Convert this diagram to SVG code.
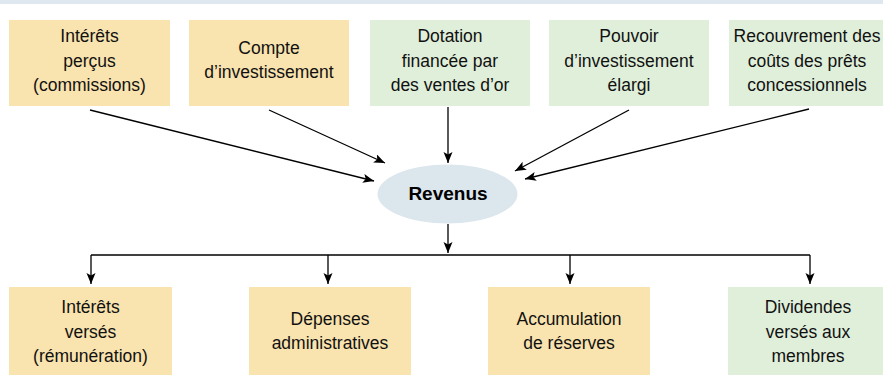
<svg xmlns="http://www.w3.org/2000/svg" width="883" height="375" viewBox="0 0 883 375">
<defs>
<marker id="ah" markerWidth="12" markerHeight="10" refX="11" refY="4.5" orient="auto" markerUnits="userSpaceOnUse">
<path d="M0,0 L11,4.5 L0,9 L2.5,4.5 Z" fill="#000"/>
</marker>
</defs>
<style>
.o{fill:#f9e3ae}
.g{fill:#e0efda}
.t{font-family:"Liberation Sans",Arial,sans-serif;font-size:17.5px;fill:#111;text-anchor:middle}
.b{font-family:"Liberation Sans",Arial,sans-serif;font-size:19px;font-weight:bold;fill:#000;text-anchor:middle}
.c{stroke:#000;stroke-width:1.3;fill:none}
.a{marker-end:url(#ah)}
</style>
<rect x="0" y="0" width="883" height="4" fill="#dfe8ef"/>
<g id="n1"><rect class="o" x="9" y="20" width="161" height="86"/>
<text class="t" x="89.5" y="42">Intérêts</text><text class="t" x="89.5" y="66.5">perçus</text><text class="t" x="89.5" y="91">(commissions)</text></g>
<g id="n2"><rect class="o" x="189" y="20" width="160" height="86"/>
<text class="t" x="269" y="54">Compte</text><text class="t" x="269" y="78">d’investissement</text></g>
<g id="n3"><rect class="g" x="370" y="20" width="160" height="86"/>
<text class="t" x="450" y="42">Dotation</text><text class="t" x="450" y="66.5">financée par</text><text class="t" x="450" y="91">des ventes d’or</text></g>
<g id="n4"><rect class="g" x="549" y="20" width="160" height="86"/>
<text class="t" x="629" y="42">Pouvoir</text><text class="t" x="629" y="66.5">d’investissement</text><text class="t" x="629" y="91">élargi</text></g>
<g id="n5"><rect class="g" x="729" y="20" width="160" height="86"/>
<text class="t" x="807" y="42">Recouvrement des</text><text class="t" x="807" y="66.5">coûts des prêts</text><text class="t" x="807" y="91">concessionnels</text></g>
<g id="rev"><ellipse cx="447.5" cy="194" rx="70" ry="29.5" fill="#dce6ed"/>
<text class="b" x="448" y="200">Revenus</text></g>
<g id="m1"><rect class="o" x="9" y="287" width="163" height="88"/>
<text class="t" x="90.5" y="313">Intérêts</text><text class="t" x="90.5" y="337.5">versés</text><text class="t" x="90.5" y="362">(rémunération)</text></g>
<g id="m2"><rect class="o" x="249" y="287" width="162" height="88"/>
<text class="t" x="330" y="325">Dépenses</text><text class="t" x="330" y="349">administratives</text></g>
<g id="m3"><rect class="o" x="488" y="287" width="162" height="88"/>
<text class="t" x="569" y="325">Accumulation</text><text class="t" x="569" y="349">de réserves</text></g>
<g id="m4"><rect class="g" x="728" y="287" width="161" height="88"/>
<text class="t" x="808" y="313">Dividendes</text><text class="t" x="808" y="337.5">versés aux</text><text class="t" x="808" y="362">membres</text></g>
<g id="connectors">
<line class="c a" x1="90" y1="110" x2="374" y2="181"/>
<line class="c a" x1="269" y1="110" x2="385" y2="163"/>
<line class="c a" x1="448" y1="107" x2="448" y2="163"/>
<line class="c a" x1="629" y1="110" x2="515" y2="171"/>
<line class="c a" x1="809" y1="109" x2="525" y2="179"/>
<line class="c a" x1="448" y1="224" x2="448" y2="253"/>
<line class="c" x1="91" y1="255" x2="810" y2="255"/>
<line class="c a" x1="91" y1="255" x2="91" y2="284"/>
<line class="c a" x1="328" y1="255" x2="328" y2="284"/>
<line class="c a" x1="570" y1="255" x2="570" y2="284"/>
<line class="c a" x1="810" y1="255" x2="810" y2="284"/>
</g>
</svg>
